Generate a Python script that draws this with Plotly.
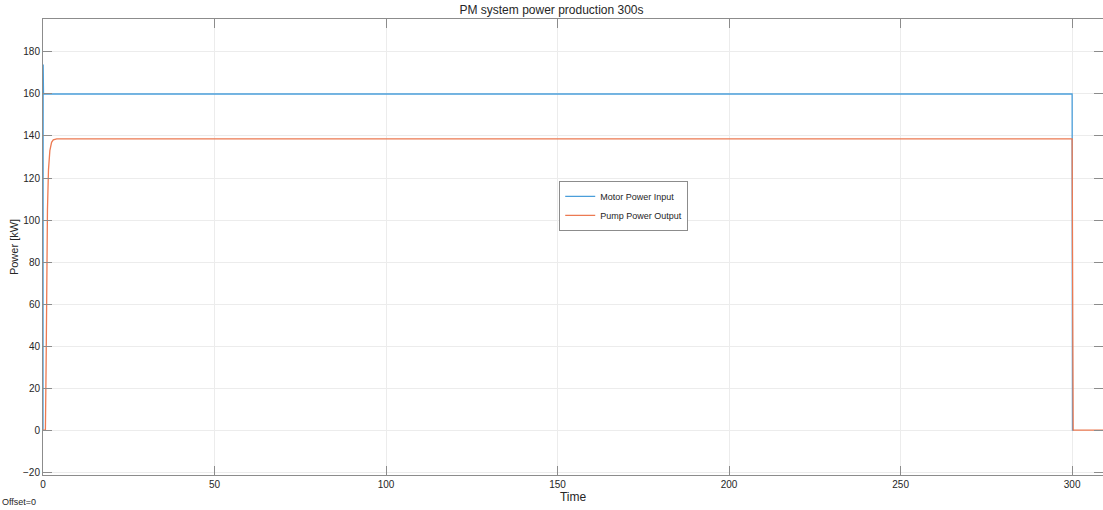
import plotly.graph_objects as go

# Data
motor_time = [0.0, 0.05, 0.15, 300.0, 300.1, 300.5]
motor_power = [0.0, 174.0, 160.0, 160.0, 0.0, 0.0]

pump_time = [0.0, 0.7, 0.9, 1.1, 1.3, 1.6, 2.0, 2.5, 3.0, 4.0, 300.0, 300.3, 309.0]
pump_power = [0.0, 0.0, 30.0, 75.0, 105.0, 124.0, 133.0, 137.0, 138.2, 138.6, 138.6, 0.0, 0.0]

title = "PM system power production 300s"
x_ticks = [0, 50, 100, 150, 200, 250, 300]
y_ticks = [-20, 0, 20, 40, 60, 80, 100, 120, 140, 160, 180]

FONT = "Liberation Sans, Arial, sans-serif"

fig = go.Figure()
fig.add_trace(go.Scatter(x=motor_time, y=motor_power, mode="lines",
                         name="Motor Power Input",
                         line=dict(color="#4A9EDA", width=1.3)))
fig.add_trace(go.Scatter(x=pump_time, y=pump_power, mode="lines",
                         name="Pump Power Output",
                         line=dict(color="#EC7A52", width=1.3)))

axis_common = dict(showline=True, linecolor="#8c8c8c", linewidth=1, mirror="ticks",
                   ticks="inside", ticklen=9, tickcolor="#8c8c8c",
                   showgrid=True, gridcolor="#ececec", gridwidth=1, automargin=False,
                   zeroline=False, tickfont=dict(family=FONT, size=10, color="#262626"))

fig.update_layout(
    width=1103, height=510,
    margin=dict(l=43, r=0, t=19, b=35, autoexpand=False),
    paper_bgcolor="white", plot_bgcolor="white",
    title=dict(text=title, x=0.5, xanchor="center", y=0.99, yanchor="top",
               font=dict(family=FONT, size=12, color="#262626")),
    xaxis=dict(range=[0, 309], tickvals=x_ticks,
               title=dict(text="Time", standoff=2, font=dict(family=FONT, size=12, color="#262626")),
               **axis_common),
    yaxis=dict(range=[-21.4, 195.7], tickvals=y_ticks,
               title=dict(text="Power [kW]", standoff=2, font=dict(family=FONT, size=11, color="#262626")),
               **axis_common),
    legend=dict(x=0.487, y=0.645, xanchor="left", yanchor="top",
                bgcolor="white", bordercolor="#8c8c8c", borderwidth=1,
                font=dict(family=FONT, size=9, color="#262626"),
                itemwidth=30, tracegroupgap=0),
    showlegend=True,
)

fig.add_annotation(text="Offset=0", xref="paper", yref="paper",
                   x=-43/1060, y=-(502-475)/456, xanchor="left", yanchor="middle",
                   showarrow=False, font=dict(family=FONT, size=9, color="#262626"))

fig.write_html("out.html", config={"displayModeBar": False},
               post_script="document.body.style.margin='0';")
